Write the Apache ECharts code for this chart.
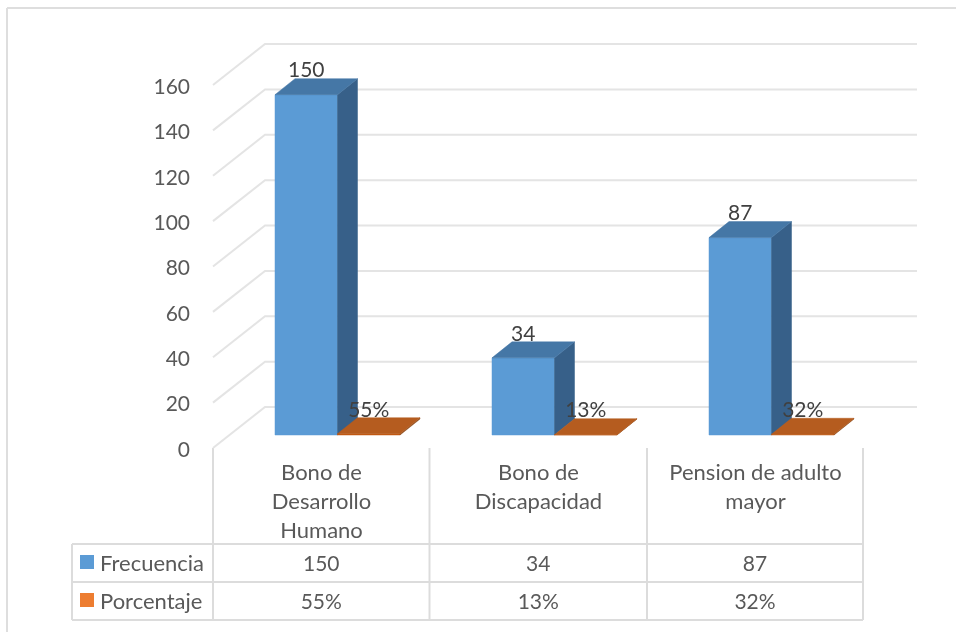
<!DOCTYPE html>
<html><head><meta charset="utf-8">
<style>html,body{margin:0;padding:0;background:#fff}#c{width:956px;height:632px}</style>
<script src="https://cdn.jsdelivr.net/npm/echarts@6/dist/echarts.min.js"></script>
</head><body><div id="c"></div>
<script>
const categories = ['Bono de\nDesarrollo\nHumano', 'Bono de\nDiscapacidad', 'Pension de adulto\nmayor'];
const frecuencia = [150, 34, 87];
const porcentaje = [0.55, 0.13, 0.32];
const porcentajeLabels = ['55%', '13%', '32%'];
const yTicks = [0, 20, 40, 60, 80, 100, 120, 140, 160];
const seriesNames = ['Frecuencia', 'Porcentaje'];

const FONT = 'Lato';
const chart = echarts.init(document.getElementById('c'));
const WALL = {dx: 52, dy: -41};
const BAR = {w: 62.5, offX: 16, offY: -13, dx: 20, dy: -16};
const GRID_COLOR = '#e4e4e4';
const TABLE_COLOR = '#dcdcdc';

function box(api, catIndex, value, shift, front, side, top) {
  const base = api.coord([catIndex, 0]);
  const head = api.coord([catIndex, value]);
  const x0 = base[0] + BAR.offX - BAR.w + shift * BAR.w;
  const x1 = x0 + BAR.w;
  const yb = base[1] + BAR.offY;
  const yt = head[1] + BAR.offY;
  const d = [BAR.dx, BAR.dy];
  const poly = (pts, fill) => ({type: 'polygon', shape: {points: pts}, style: {fill: fill, stroke: fill, lineWidth: 0.5}});
  return {
    parts: [
      poly([[x0, yb], [x1, yb], [x1, yt], [x0, yt]], front),
      poly([[x1, yb], [x1 + d[0], yb + d[1]], [x1 + d[0], yt + d[1]], [x1, yt]], side),
      poly([[x0, yt], [x1, yt], [x1 + d[0], yt + d[1]], [x0 + d[0], yt + d[1]]], top)
    ],
    labelX: (x0 + x1) / 2,
    labelY: yt + d[1] - 8
  };
}

function barSeries(name, values, labels, shift, c) {
  return {
    type: 'custom', name: name, coordinateSystem: 'cartesian2d', z: 5,
    data: values.map((v, i) => [i, v, labels[i]]),
    renderItem: (p, api) => {
      const b = box(api, api.value(0), api.value(1), shift, c[0], c[1], c[2]);
      return {type: 'group', children: b.parts.concat([{
        type: 'text', z2: 20,
        style: {x: b.labelX, y: b.labelY, text: String(labels[p.dataIndex]), fill: '#404040',
          font: '21px ' + FONT, align: 'center', verticalAlign: 'middle'}
      }])};
    }
  };
}

const wallSeries = {
  type: 'custom', coordinateSystem: 'cartesian2d', z: 1, silent: true,
  data: yTicks.map(v => [0, v]),
  renderItem: (p, api) => {
    const r = p.coordSys;
    const y = api.coord([0, api.value(1)])[1];
    return {type: 'polyline', shape: {points: [[r.x, y], [r.x + WALL.dx, y + WALL.dy], [917, y + WALL.dy]]},
      style: {stroke: GRID_COLOR, lineWidth: 2, fill: null}};
  }
};

const X = [72, 213, 429.5, 647, 863];
const T = [544, 582, 620];
const line = (x1, y1, x2, y2, w, c) => ({type: 'line', shape: {x1, y1, x2, y2}, style: {stroke: c || TABLE_COLOR, lineWidth: w || 2}, silent: true});
const txt = (x, y, text, fill, size, align) => ({type: 'text', style: {x, y, text, fill, font: size + 'px ' + FONT, align: align || 'center', verticalAlign: 'middle'}});
const tableEls = [
  line(7, 8, 956, 8, 2, '#dedede'), line(7, 8, 7, 632, 2, '#dedede'),
  line(X[0], T[0], X[4], T[0]), line(X[0], T[1], X[4], T[1]), line(X[0], T[2], X[4], T[2]),
  line(X[0], T[0], X[0], T[2]),
  line(X[1], 448, X[1], T[2]), line(X[2], 448, X[2], T[2]), line(X[3], 448, X[3], T[2]), line(X[4], 448, X[4], T[2]),
  {type: 'rect', shape: {x: 80, y: 555, width: 14, height: 14}, style: {fill: '#5b9bd5'}},
  {type: 'rect', shape: {x: 80, y: 593, width: 14, height: 14}, style: {fill: '#ed7d31'}},
  txt(100, 564, seriesNames[0], '#595959', 22, 'left'),
  txt(100, 602, seriesNames[1], '#595959', 22, 'left')
];
frecuencia.forEach((v, i) => tableEls.push(txt((X[i + 1] + X[i + 2]) / 2, 564, String(v), '#595959', 21)));
porcentajeLabels.forEach((v, i) => tableEls.push(txt((X[i + 1] + X[i + 2]) / 2, 602, v, '#595959', 21)));

chart.setOption({
  animation: false,
  backgroundColor: '#fff',
  textStyle: {fontFamily: FONT},
  grid: {left: 213, right: 92, top: 85, bottom: 184},
  xAxis: {type: 'category', data: categories, axisLine: {show: false}, axisTick: {show: false},
    axisLabel: {color: '#595959', fontSize: 22, fontFamily: FONT, lineHeight: 29, margin: 10, verticalAlign: 'top', interval: 0}},
  yAxis: {type: 'value', min: 0, max: 160, interval: 20, axisLine: {show: false}, axisTick: {show: false},
    splitLine: {show: false}, axisLabel: {margin: 23, formatter: '{v|{value}}',
      rich: {v: {color: '#595959', fontSize: 21, fontFamily: FONT, padding: [4, 0, 0, 0]}}}},
  graphic: {elements: tableEls},
  series: [
    wallSeries,
    barSeries(seriesNames[0], frecuencia, frecuencia, 0, ['#5b9bd5', '#376089', '#4577a6']),
    barSeries(seriesNames[1], porcentaje, porcentajeLabels, 1, ['#c55a11', '#8f4b1a', '#b55c1f'])
  ]
});
</script></body></html>
